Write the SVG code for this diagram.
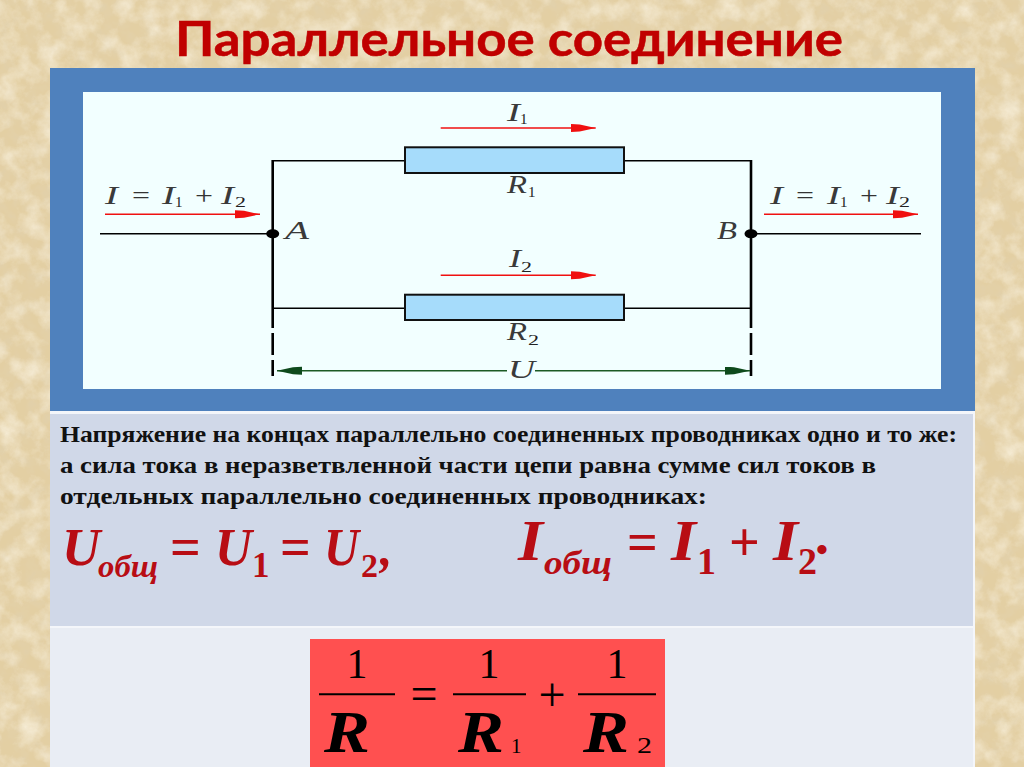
<svg xmlns="http://www.w3.org/2000/svg" width="1024" height="767" viewBox="0 0 1024 767">
<style>
.w{stroke:#000;fill:none;stroke-width:1.6}
.v{stroke:#000;fill:none;stroke-width:2.6}
.r{stroke:#f01010;fill:none;stroke-width:1.5}
.g{stroke:#1c5a24;fill:none;stroke-width:1.4}
.res{fill:#a6dcfb;stroke:#111;stroke-width:2}
.m{font-family:"Liberation Serif",serif;font-style:italic;font-size:25px;fill:#3a3a3a}
.s{font-family:"Liberation Serif",serif;font-size:15px;fill:#222}
.p{font-family:"Liberation Serif",serif;font-size:26px;fill:#333}
.b{font-family:"Liberation Serif",serif;font-weight:bold;font-size:23.5px;fill:#111}
.f{font-family:"Liberation Serif",serif;font-weight:bold;font-style:italic;fill:#b80d14}
.n{font-family:"Liberation Serif",serif;font-weight:bold;fill:#b80d14}
.k{font-family:"Liberation Serif",serif;fill:#000}
.ki{font-family:"Liberation Serif",serif;font-style:italic;font-weight:bold;fill:#000;font-size:60px}
</style>
<defs>
<filter id="dark" x="0" y="0" width="100%" height="100%">
<feTurbulence type="fractalNoise" baseFrequency="0.07" numOctaves="5" seed="7"/>
<feColorMatrix type="matrix" values="0 0 0 0 0.76  0 0 0 0 0.64  0 0 0 0 0.42  1.6 0 0 0 -0.62"/>
</filter>
<filter id="light" x="0" y="0" width="100%" height="100%">
<feTurbulence type="fractalNoise" baseFrequency="0.05" numOctaves="5" seed="21"/>
<feColorMatrix type="matrix" values="0 0 0 0 0.96  0 0 0 0 0.90  0 0 0 0 0.76  1.4 0 0 0 -0.55"/>
</filter>
<marker id="ra" markerUnits="userSpaceOnUse" markerWidth="25" markerHeight="9" refX="25" refY="4" orient="auto"><path d="M0 0L9 0.5L25 4L9 7.5L0 8Z" fill="#f01010"/></marker>
<marker id="ga" markerUnits="userSpaceOnUse" markerWidth="25" markerHeight="9" refX="25" refY="4" orient="auto-start-reverse"><path d="M0 0L9 0.5L25 4L9 7.5L0 8Z" fill="#0e4a1c"/></marker>
</defs>
<rect width="1024" height="767" fill="#e3cfa3"/>
<rect width="1024" height="767" filter="url(#dark)"/>
<rect width="1024" height="767" filter="url(#light)"/>
<text x="175" y="56" textLength="668" lengthAdjust="spacingAndGlyphs" font-family="Lato,'Open Sans',sans-serif" font-weight="bold" font-size="48" fill="#c00000" stroke="#c00000" stroke-width="0.5">Параллельное соединение</text>
<rect x="50" y="68" width="925" height="699" fill="#f4f6fa"/>
<rect x="50" y="68" width="925" height="343" fill="#4f81bd"/>
<rect x="50" y="414" width="923" height="212" fill="#d0d8e8"/>
<rect x="50" y="628" width="923" height="139" fill="#e9edf4"/>
<rect x="83" y="92" width="858" height="297" fill="#f2ffff"/>
<g id="connectors">
<path class="w" d="M100 233.7H272M751 233.7H921M272.7 160.7H405M624 160.7H751M272.7 308.3H405M624 308.3H751"/>
<path class="v" d="M272.7 160V328M272.7 333V355M272.7 360V376M751 160V328M751 333V355M751 360V376"/>
<path class="r" marker-end="url(#ra)" d="M105 214.3H260"/>
<path class="r" marker-end="url(#ra)" d="M764 214.3H918"/>
<path class="r" marker-end="url(#ra)" d="M440.7 128H595.7"/>
<path class="r" marker-end="url(#ra)" d="M440.7 275.3H595.7"/>
<path class="g" marker-start="url(#ga)" d="M277 370.7H507"/>
<path class="g" marker-end="url(#ga)" d="M535 370.7H750"/>
</g>
<g id="node-A"><ellipse cx="272.7" cy="233.7" rx="6.5" ry="4.5"/><text class="m" x="285" y="239" textLength="24" lengthAdjust="spacingAndGlyphs">A</text></g>
<g id="node-B"><ellipse cx="751" cy="233.7" rx="6.5" ry="4.5"/><text class="m" x="717" y="239" textLength="20" lengthAdjust="spacingAndGlyphs">B</text></g>
<g id="R1"><rect class="res" x="405" y="147.3" width="219" height="25.7"/><text class="m" x="507" y="193" textLength="20" lengthAdjust="spacingAndGlyphs">R</text><text class="s" x="528" y="197">1</text></g>
<g id="R2"><rect class="res" x="405" y="294.7" width="219" height="25.3"/><text class="m" x="507" y="340" textLength="20" lengthAdjust="spacingAndGlyphs">R</text><text class="s" x="528" y="345" textLength="11" lengthAdjust="spacingAndGlyphs">2</text></g>
<g id="I1"><text class="m" x="507" y="121" textLength="13" lengthAdjust="spacingAndGlyphs">I</text><text class="s" x="520" y="124">1</text></g>
<g id="I2"><text class="m" x="509" y="267" textLength="12" lengthAdjust="spacingAndGlyphs">I</text><text class="s" x="521" y="272" textLength="11" lengthAdjust="spacingAndGlyphs">2</text></g>
<g id="U"><text class="m" x="508" y="378" textLength="27" lengthAdjust="spacingAndGlyphs">U</text></g>
<g id="left-label"><text class="m" x="105" y="204" textLength="13" lengthAdjust="spacingAndGlyphs">I</text><text class="p" x="132" y="204" textLength="18" lengthAdjust="spacingAndGlyphs">=</text><text class="m" x="162" y="204" textLength="13" lengthAdjust="spacingAndGlyphs">I</text><text class="s" x="175" y="207">1</text><text class="p" x="195" y="204" textLength="18" lengthAdjust="spacingAndGlyphs">+</text><text class="m" x="221" y="204" textLength="13" lengthAdjust="spacingAndGlyphs">I</text><text class="s" x="235" y="207" textLength="11" lengthAdjust="spacingAndGlyphs">2</text></g>
<g id="right-label"><text class="m" x="770" y="204" textLength="13" lengthAdjust="spacingAndGlyphs">I</text><text class="p" x="796" y="204" textLength="18" lengthAdjust="spacingAndGlyphs">=</text><text class="m" x="827" y="204" textLength="13" lengthAdjust="spacingAndGlyphs">I</text><text class="s" x="840" y="207">1</text><text class="p" x="860" y="204" textLength="18" lengthAdjust="spacingAndGlyphs">+</text><text class="m" x="886" y="204" textLength="13" lengthAdjust="spacingAndGlyphs">I</text><text class="s" x="899" y="207" textLength="11" lengthAdjust="spacingAndGlyphs">2</text></g>
<text class="b" x="60" y="442" textLength="897" lengthAdjust="spacingAndGlyphs">Напряжение на концах параллельно соединенных проводниках одно и то же:</text>
<text class="b" x="60" y="473" textLength="816" lengthAdjust="spacingAndGlyphs">а сила тока в неразветвленной части цепи равна сумме сил токов в</text>
<text class="b" x="60" y="504" textLength="647" lengthAdjust="spacingAndGlyphs">отдельных параллельно соединенных проводниках:</text>
<g id="formula-u">
<text class="f" x="62" y="565" font-size="53">U</text><text class="f" x="98" y="577" font-size="32" textLength="60" lengthAdjust="spacingAndGlyphs">общ</text><text class="n" x="170" y="565" font-size="54">=</text><text class="f" x="215" y="565" font-size="53" textLength="37" lengthAdjust="spacingAndGlyphs">U</text><text class="n" x="252" y="577" font-size="35">1</text><text class="n" x="280" y="565" font-size="54">=</text><text class="f" x="324" y="565" font-size="53" textLength="35" lengthAdjust="spacingAndGlyphs">U</text><text class="n" x="361" y="577" font-size="34">2</text><text class="f" x="380" y="565" font-size="50">,</text>
</g>
<g id="formula-i">
<text class="f" x="518" y="560" font-size="58" textLength="25" lengthAdjust="spacingAndGlyphs">I</text><text class="f" x="544" y="574" font-size="34" textLength="68" lengthAdjust="spacingAndGlyphs">общ</text><text class="n" x="627" y="560" font-size="54">=</text><text class="f" x="671" y="560" font-size="58" textLength="25" lengthAdjust="spacingAndGlyphs">I</text><text class="n" x="697" y="574" font-size="38">1</text><text class="n" x="729" y="560" font-size="54">+</text><text class="f" x="773" y="560" font-size="58" textLength="25" lengthAdjust="spacingAndGlyphs">I</text><text class="n" x="798" y="574" font-size="38">2</text><text class="n" x="816" y="561" font-size="34">•</text>
</g>
<g id="formula-r">
<rect x="310" y="639" width="355" height="128" fill="#ff5050"/>
<path d="M319 694.3H395M453 694.3H526M578 694.3H656" stroke="#000" stroke-width="2" fill="none"/>
<text class="k" x="357" y="678" font-size="42" text-anchor="middle">1</text>
<text class="k" x="489" y="678" font-size="42" text-anchor="middle">1</text>
<text class="k" x="617" y="678" font-size="42" text-anchor="middle">1</text>
<text class="k" x="424" y="710" font-size="48" text-anchor="middle">=</text>
<text class="k" x="552" y="711" font-size="48" text-anchor="middle">+</text>
<text class="ki" x="324" y="752" textLength="46" lengthAdjust="spacingAndGlyphs">R</text>
<text class="ki" x="458" y="752" textLength="46" lengthAdjust="spacingAndGlyphs">R</text>
<text class="k" x="511" y="753" font-size="21">1</text>
<text class="ki" x="583" y="752" textLength="46" lengthAdjust="spacingAndGlyphs">R</text>
<text class="k" x="637" y="753" font-size="23" textLength="15" lengthAdjust="spacingAndGlyphs">2</text>
</g>
</svg>
